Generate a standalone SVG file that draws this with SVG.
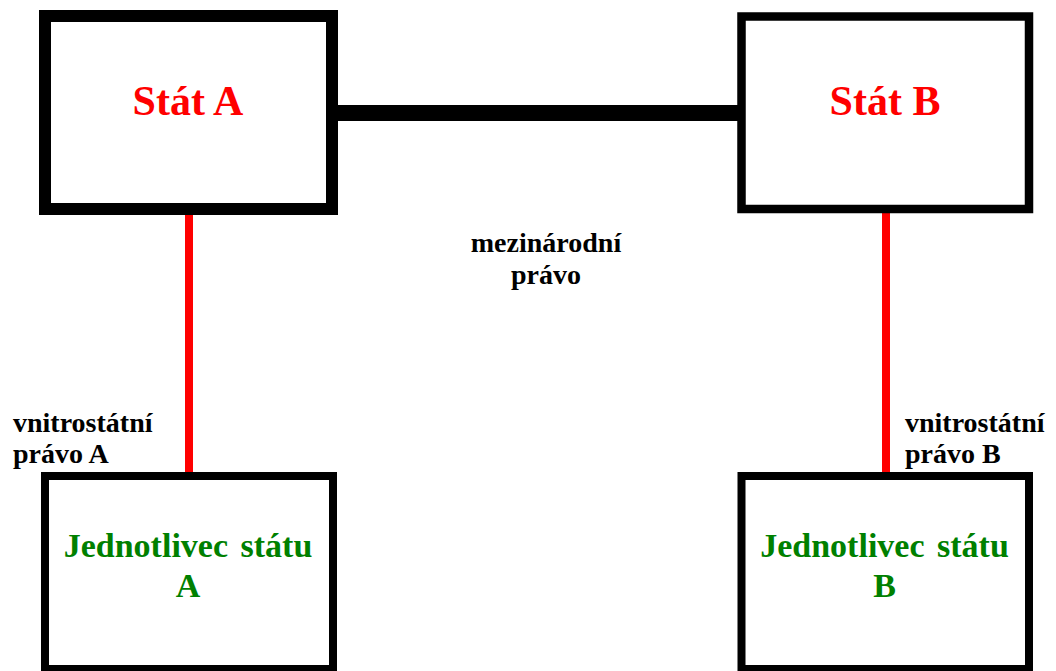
<svg xmlns="http://www.w3.org/2000/svg" width="1056" height="671" viewBox="0 0 1056 671">
<style>
.box{fill:#fff;stroke:#000}
.state{font-family:"Liberation Serif",serif;font-weight:bold;font-size:42px;fill:#ff0000;text-anchor:middle}
.ind{font-family:"Liberation Serif",serif;font-weight:bold;font-size:34px;fill:#008000;text-anchor:middle;word-spacing:4px}
.lbl{font-family:"Liberation Serif",serif;font-weight:bold;font-size:28px;fill:#000}
.red{stroke:#ff0000;stroke-width:8;fill:none}
</style>
<rect width="1056" height="671" fill="#fff"/>
<g id="connectors">
<line x1="336" y1="113" x2="740" y2="113" stroke="#000" stroke-width="16"/>
<line class="red" x1="189" y1="212" x2="189" y2="476"/>
<line class="red" x1="886" y1="210" x2="886" y2="476"/>
</g>
<g id="statA">
<rect class="box" x="45" y="16" width="287" height="193" stroke-width="12"/>
<text class="state" x="188" y="115">Stát A</text>
</g>
<g id="statB">
<rect class="box" x="741.5" y="16.5" width="287.5" height="192.5" stroke-width="8.5"/>
<text class="state" x="885" y="115">Stát B</text>
</g>
<g id="jednotlivecA">
<rect class="box" x="45" y="476" width="288" height="193" stroke-width="8"/>
<text class="ind" x="188" y="557">Jednotlivec státu</text>
<text class="ind" x="188" y="597">A</text>
</g>
<g id="jednotlivecB">
<rect class="box" x="741.5" y="476" width="287.5" height="193" stroke-width="8"/>
<text class="ind" x="884.5" y="557">Jednotlivec státu</text>
<text class="ind" x="884.5" y="597">B</text>
</g>
<g id="labels">
<text class="lbl" x="546" y="252" text-anchor="middle">mezinárodní</text>
<text class="lbl" x="546" y="284" text-anchor="middle">právo</text>
<text class="lbl" x="13" y="432">vnitrostátní</text>
<text class="lbl" x="13" y="463">právo A</text>
<text class="lbl" x="905" y="432">vnitrostátní</text>
<text class="lbl" x="905" y="463">právo B</text>
</g>
</svg>
